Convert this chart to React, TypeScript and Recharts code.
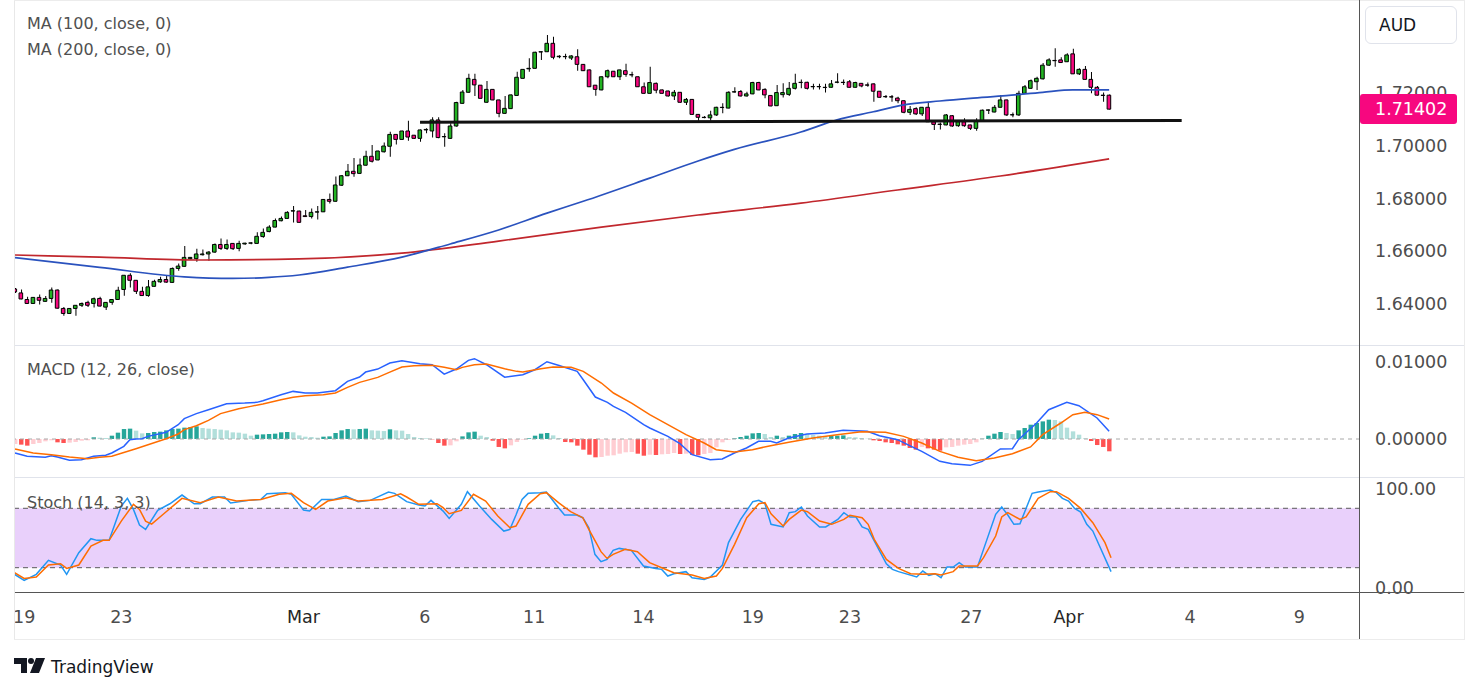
import React from 'react';
import { ComposedChart, Bar, Line, XAxis, YAxis, Cell, ReferenceLine, ReferenceArea } from 'recharts';

// ---------- price candles (4H, index = bar slot) ----------
const OPEN = [
  1.6457, 1.6442, 1.6417, 1.6402, 1.6425, 1.6410, 1.6421, 1.6453, 1.6383, 1.6364,
  1.6383, 1.6395, 1.6406, 1.6402, 1.6421, 1.6388, 1.6406, 1.6417, 1.6455, 1.6509,
  1.6490, 1.6448, 1.6432, 1.6467, 1.6484, 1.6493, 1.6482, 1.6535, 1.6543, 1.6572,
  1.6572, 1.6587, 1.6590, 1.6597, 1.6626, 1.6611, 1.6630, 1.6611, 1.6628, 1.6631,
  1.6630, 1.6656, 1.6675, 1.6692, 1.6716, 1.6725, 1.6753, 1.6753, 1.6735, 1.6732,
  1.6749, 1.6750, 1.6797, 1.6790, 1.6851, 1.6887, 1.6904, 1.6896, 1.6927, 1.6961,
  1.6947, 1.6978, 1.6999, 1.7044, 1.7025, 1.7057, 1.7041, 1.7029, 1.7061, 1.7057,
  1.7099, 1.7035, 1.7029, 1.7076, 1.7162, 1.7204, 1.7253, 1.7231, 1.7166, 1.7215,
  1.7175, 1.7124, 1.7142, 1.7192, 1.7257, 1.7293, 1.7295, 1.7357, 1.7358, 1.7390,
  1.7339, 1.7339, 1.7334, 1.7339, 1.7310, 1.7289, 1.7231, 1.7213, 1.7263, 1.7284,
  1.7263, 1.7286, 1.7271, 1.7263, 1.7225, 1.7200, 1.7238, 1.7213, 1.7209, 1.7190,
  1.7204, 1.7166, 1.7177, 1.7120, 1.7109, 1.7107, 1.7118, 1.7146, 1.7144, 1.7205,
  1.7207, 1.7190, 1.7198, 1.7241, 1.7215, 1.7192, 1.7153, 1.7195, 1.7196, 1.7219,
  1.7242, 1.7242, 1.7225, 1.7226, 1.7223, 1.7223, 1.7242, 1.7242, 1.7244, 1.7223,
  1.7238, 1.7232, 1.7236, 1.7208, 1.7187, 1.7187, 1.7182, 1.7172, 1.7128, 1.7142,
  1.7122, 1.7147, 1.7092, 1.7082, 1.7080, 1.7115, 1.7077, 1.7092, 1.7080, 1.7067,
  1.7096, 1.7136, 1.7129, 1.7147, 1.7175, 1.7118, 1.7118, 1.7200, 1.7219, 1.7244,
  1.7255, 1.7307, 1.7324, 1.7327, 1.7320, 1.7350, 1.7274, 1.7291, 1.7253, 1.7223,
  1.7193, 1.7193,
];
const HIGH = [
  1.6461, 1.6455, 1.6427, 1.6426, 1.6436, 1.6430, 1.6463, 1.6455, 1.6389, 1.6384,
  1.6396, 1.6406, 1.6412, 1.6425, 1.6427, 1.6407, 1.6418, 1.6465, 1.6510, 1.6517,
  1.6491, 1.6465, 1.6491, 1.6492, 1.6503, 1.6506, 1.6539, 1.6554, 1.6620, 1.6578,
  1.6610, 1.6607, 1.6601, 1.6630, 1.6649, 1.6645, 1.6631, 1.6640, 1.6633, 1.6634,
  1.6672, 1.6687, 1.6699, 1.6725, 1.6732, 1.6752, 1.6772, 1.6754, 1.6757, 1.6763,
  1.6772, 1.6798, 1.6820, 1.6884, 1.6890, 1.6932, 1.6954, 1.6953, 1.6982, 1.7004,
  1.6982, 1.7013, 1.7054, 1.7045, 1.7058, 1.7096, 1.7042, 1.7063, 1.7067, 1.7109,
  1.7109, 1.7048, 1.7086, 1.7168, 1.7213, 1.7274, 1.7274, 1.7232, 1.7247, 1.7216,
  1.7176, 1.7190, 1.7196, 1.7282, 1.7292, 1.7333, 1.7358, 1.7359, 1.7422, 1.7415,
  1.7345, 1.7350, 1.7345, 1.7367, 1.7311, 1.7291, 1.7232, 1.7264, 1.7291, 1.7285,
  1.7290, 1.7312, 1.7282, 1.7264, 1.7241, 1.7301, 1.7241, 1.7215, 1.7210, 1.7213,
  1.7205, 1.7182, 1.7178, 1.7121, 1.7114, 1.7134, 1.7149, 1.7162, 1.7208, 1.7223,
  1.7213, 1.7206, 1.7244, 1.7244, 1.7219, 1.7193, 1.7232, 1.7238, 1.7243, 1.7274,
  1.7253, 1.7244, 1.7236, 1.7236, 1.7236, 1.7251, 1.7276, 1.7253, 1.7251, 1.7244,
  1.7239, 1.7241, 1.7237, 1.7209, 1.7194, 1.7194, 1.7187, 1.7173, 1.7152, 1.7147,
  1.7148, 1.7168, 1.7093, 1.7089, 1.7122, 1.7118, 1.7099, 1.7105, 1.7081, 1.7105,
  1.7139, 1.7139, 1.7156, 1.7194, 1.7176, 1.7127, 1.7210, 1.7232, 1.7253, 1.7263,
  1.7315, 1.7333, 1.7371, 1.7337, 1.7352, 1.7369, 1.7295, 1.7304, 1.7281, 1.7228,
  1.7203, 1.7196,
];
const LOW = [
  1.6442, 1.6418, 1.6401, 1.6401, 1.6398, 1.6409, 1.6405, 1.6383, 1.6355, 1.6363,
  1.6355, 1.6389, 1.6389, 1.6387, 1.6391, 1.6377, 1.6397, 1.6416, 1.6431, 1.6463,
  1.6438, 1.6431, 1.6427, 1.6466, 1.6481, 1.6481, 1.6481, 1.6526, 1.6542, 1.6569,
  1.6560, 1.6584, 1.6564, 1.6595, 1.6605, 1.6605, 1.6605, 1.6600, 1.6625, 1.6627,
  1.6629, 1.6652, 1.6672, 1.6691, 1.6714, 1.6724, 1.6709, 1.6709, 1.6730, 1.6725,
  1.6721, 1.6749, 1.6782, 1.6789, 1.6848, 1.6886, 1.6883, 1.6895, 1.6926, 1.6937,
  1.6946, 1.6975, 1.6959, 1.7006, 1.7024, 1.7020, 1.7028, 1.7016, 1.7048, 1.7032,
  1.7029, 1.6997, 1.7028, 1.7073, 1.7161, 1.7203, 1.7190, 1.7180, 1.7165, 1.7174,
  1.7109, 1.7123, 1.7141, 1.7191, 1.7256, 1.7282, 1.7294, 1.7327, 1.7357, 1.7329,
  1.7333, 1.7329, 1.7327, 1.7286, 1.7285, 1.7224, 1.7191, 1.7212, 1.7257, 1.7262,
  1.7251, 1.7263, 1.7261, 1.7224, 1.7199, 1.7199, 1.7200, 1.7199, 1.7188, 1.7175,
  1.7165, 1.7156, 1.7119, 1.7096, 1.7105, 1.7096, 1.7114, 1.7124, 1.7143, 1.7203,
  1.7188, 1.7188, 1.7197, 1.7212, 1.7181, 1.7151, 1.7152, 1.7184, 1.7190, 1.7215,
  1.7219, 1.7215, 1.7215, 1.7215, 1.7203, 1.7222, 1.7238, 1.7232, 1.7222, 1.7222,
  1.7223, 1.7225, 1.7168, 1.7184, 1.7182, 1.7168, 1.7162, 1.7124, 1.7118, 1.7118,
  1.7114, 1.7091, 1.7061, 1.7063, 1.7079, 1.7073, 1.7073, 1.7073, 1.7061, 1.7058,
  1.7095, 1.7122, 1.7128, 1.7146, 1.7114, 1.7109, 1.7114, 1.7198, 1.7218, 1.7213,
  1.7253, 1.7304, 1.7301, 1.7315, 1.7319, 1.7273, 1.7270, 1.7252, 1.7200, 1.7192,
  1.7168, 1.7139,
];
const CLOSE = [
  1.6446, 1.6419, 1.6402, 1.6425, 1.6414, 1.6421, 1.6453, 1.6384, 1.6364, 1.6383,
  1.6395, 1.6402, 1.6395, 1.6420, 1.6392, 1.6406, 1.6417, 1.6452, 1.6509, 1.6490,
  1.6448, 1.6432, 1.6465, 1.6486, 1.6493, 1.6483, 1.6535, 1.6544, 1.6577, 1.6577,
  1.6590, 1.6590, 1.6597, 1.6626, 1.6611, 1.6626, 1.6610, 1.6630, 1.6631, 1.6632,
  1.6657, 1.6672, 1.6692, 1.6717, 1.6725, 1.6748, 1.6754, 1.6710, 1.6732, 1.6748,
  1.6750, 1.6797, 1.6790, 1.6852, 1.6887, 1.6904, 1.6895, 1.6928, 1.6961, 1.6942,
  1.6981, 1.7000, 1.7044, 1.7025, 1.7057, 1.7034, 1.7029, 1.7061, 1.7063, 1.7099,
  1.7032, 1.7036, 1.7076, 1.7165, 1.7205, 1.7257, 1.7232, 1.7181, 1.7215, 1.7175,
  1.7124, 1.7143, 1.7194, 1.7261, 1.7291, 1.7295, 1.7356, 1.7358, 1.7390, 1.7337,
  1.7341, 1.7340, 1.7342, 1.7310, 1.7286, 1.7225, 1.7215, 1.7263, 1.7286, 1.7263,
  1.7289, 1.7272, 1.7270, 1.7225, 1.7200, 1.7241, 1.7212, 1.7200, 1.7190, 1.7204,
  1.7166, 1.7177, 1.7120, 1.7109, 1.7108, 1.7118, 1.7147, 1.7147, 1.7204, 1.7206,
  1.7190, 1.7198, 1.7241, 1.7213, 1.7194, 1.7152, 1.7203, 1.7203, 1.7219, 1.7238,
  1.7241, 1.7219, 1.7226, 1.7225, 1.7222, 1.7236, 1.7243, 1.7241, 1.7223, 1.7241,
  1.7228, 1.7231, 1.7208, 1.7185, 1.7188, 1.7186, 1.7172, 1.7128, 1.7139, 1.7122,
  1.7147, 1.7092, 1.7082, 1.7083, 1.7118, 1.7076, 1.7092, 1.7077, 1.7067, 1.7096,
  1.7136, 1.7137, 1.7147, 1.7175, 1.7118, 1.7119, 1.7200, 1.7225, 1.7248, 1.7257,
  1.7307, 1.7327, 1.7325, 1.7317, 1.7346, 1.7274, 1.7291, 1.7253, 1.7223, 1.7193,
  1.7192, 1.7140,
];

// ---------- moving averages [barIndex, value] ----------
const MA100 = [
  [0, 1.6576], [14, 1.6539], [28, 1.6503], [36, 1.6497], [42, 1.6501], [47, 1.6510],
  [55, 1.6540], [64, 1.6578], [72, 1.6628], [80, 1.6681], [88, 1.6745], [94, 1.6790],
  [105, 1.6878], [113, 1.6943], [119, 1.6987], [130, 1.7053], [136, 1.7099], [142, 1.7130],
  [147, 1.7156], [153, 1.7171], [158, 1.7181], [164, 1.7191], [170, 1.7204], [175, 1.7213],
  [181, 1.7213],
];
const MA200 = [
  [0, 1.6586], [14, 1.6578], [31, 1.6567], [47, 1.6571], [64, 1.6593], [80, 1.6639],
  [97, 1.6692], [113, 1.6738], [130, 1.6783], [146, 1.6833], [163, 1.6886], [181, 1.6951],
];
const SUPPORT_IDX = [67, 193];
const SUPPORT_PRICE = [1.7090, 1.7097];
const LAST_PRICE = 1.71402;

// ---------- MACD ----------
const HIST = [
  -0.00065, -0.00073, -0.00086, -0.00065, -0.00052, -0.00030, -0.00017, -0.00043, -0.00052, -0.00047,
  -0.00039, -0.00022, -0.00017, 0.00022, 0.00017, 0.00013, 0.00043, 0.00082, 0.00129, 0.00134,
  0.00108, 0.00073, 0.00078, 0.00091, 0.00095, 0.00112, 0.00129, 0.00134, 0.00147, 0.00155,
  0.00164, 0.00142, 0.00134, 0.00129, 0.00121, 0.00112, 0.00086, 0.00082, 0.00069, 0.00043,
  0.00056, 0.00060, 0.00065, 0.00069, 0.00086, 0.00091, 0.00086, 0.00047, 0.00030, 0.00026,
  0.00017, 0.00030, 0.00034, 0.00078, 0.00112, 0.00129, 0.00125, 0.00129, 0.00134, 0.00112,
  0.00108, 0.00103, 0.00125, 0.00112, 0.00108, 0.00065, 0.00026, 0.00013, 0.00009, -0.00004,
  -0.00052, -0.00086, -0.00082, -0.00030, 0.00034, 0.00086, 0.00095, 0.00043, 0.00026, -0.00022,
  -0.00103, -0.00121, -0.00082, -0.00039, -0.00009, 0.00009, 0.00043, 0.00069, 0.00078, 0.00047,
  0.00013, -0.00039, -0.00043, -0.00086, -0.00138, -0.00203, -0.00237, -0.00233, -0.00216, -0.00211,
  -0.00190, -0.00172, -0.00168, -0.00190, -0.00216, -0.00203, -0.00207, -0.00198, -0.00194, -0.00181,
  -0.00194, -0.00190, -0.00207, -0.00211, -0.00194, -0.00181, -0.00108, -0.00043, -0.00013, 0.00009,
  0.00026, 0.00043, 0.00073, 0.00078, 0.00065, 0.00026, 0.00043, 0.00026, 0.00043, 0.00065,
  0.00078, 0.00065, 0.00052, 0.00043, 0.00034, 0.00039, 0.00043, 0.00047, 0.00026, 0.00022,
  0.00013, 0.00004, -0.00017, -0.00026, -0.00043, -0.00052, -0.00069, -0.00086, -0.00116, -0.00138,
  -0.00103, -0.00121, -0.00138, -0.00151, -0.00108, -0.00103, -0.00086, -0.00073, -0.00065, -0.00043,
  0.00004, 0.00043, 0.00069, 0.00091, 0.00078, 0.00065, 0.00112, 0.00142, 0.00185, 0.00207,
  0.00228, 0.00250, 0.00246, 0.00228, 0.00147, 0.00099, 0.00056, 0.00009, -0.00026, -0.00078,
  -0.00103, -0.00159,
];
const MACD_LINE = [
  [0, -0.00181], [2, -0.00224], [5, -0.00237], [6, -0.00216], [7, -0.00233], [9, -0.00276],
  [11, -0.00267], [13, -0.00224], [15, -0.00211], [16, -0.00181], [18, -0.00095], [19, -0.00009],
  [20, 0.0], [21, 0.00004], [22, 0.00034], [25, 0.00086], [27, 0.00185], [28, 0.00263],
  [30, 0.00328], [32, 0.00379], [35, 0.00457], [38, 0.00465], [40, 0.00474], [41, 0.00496],
  [44, 0.00573], [46, 0.00616], [48, 0.00595], [50, 0.00595], [53, 0.00625], [55, 0.00746],
  [57, 0.00802], [58, 0.00866], [60, 0.00905], [62, 0.00983], [64, 0.01013], [67, 0.00974],
  [69, 0.00961], [71, 0.0084], [73, 0.00905], [75, 0.01017], [76, 0.01039], [78, 0.00961],
  [81, 0.0080], [84, 0.00832], [86, 0.00896], [88, 0.01000], [90, 0.0095], [93, 0.00875],
  [94, 0.00767], [96, 0.00543], [98, 0.00474], [99, 0.00422], [101, 0.00345], [104, 0.00185],
  [105, 0.00142], [108, 0.00034], [110, -0.0006], [112, -0.00203], [115, -0.00267], [117, -0.00259],
  [119, -0.00181], [121, -0.00116], [123, -0.0003], [125, -0.0003], [126, -0.00052], [128, 0.00013],
  [131, 0.00065], [134, 0.00078], [137, 0.00112], [139, 0.00108], [141, 0.00099], [143, 0.00043],
  [146, -0.00009], [148, -0.00086], [150, -0.0016], [153, -0.00289], [155, -0.00319], [158, -0.00341],
  [160, -0.00289], [163, -0.00129], [165, -0.00125], [166, -0.00009], [169, 0.00207], [171, 0.00379],
  [174, 0.00474], [176, 0.00431], [179, 0.00272], [181, 0.00099],
];
const SIGNAL_LINE = [
  [0, -0.00129], [3, -0.00181], [6, -0.00203], [9, -0.00233], [12, -0.00254], [14, -0.00237],
  [16, -0.00224], [20, -0.00125], [25, 0.00004], [27, 0.00065], [28, 0.00121], [30, 0.00172],
  [32, 0.00241], [34, 0.00328], [37, 0.00392], [39, 0.00422], [41, 0.00453], [44, 0.00509],
  [46, 0.00539], [48, 0.0056], [51, 0.00573], [53, 0.00595], [55, 0.00668], [57, 0.00733],
  [60, 0.00797], [62, 0.00866], [64, 0.00931], [66, 0.00948], [69, 0.00953], [71, 0.00927],
  [73, 0.00896], [74, 0.00927], [76, 0.00961], [78, 0.0097], [81, 0.00909], [83, 0.00875],
  [84, 0.00866], [87, 0.0091], [89, 0.00931], [92, 0.00927], [94, 0.00875], [97, 0.00724],
  [99, 0.00595], [102, 0.00465], [105, 0.00315], [108, 0.00185], [111, 0.00056], [114, -0.00052],
  [116, -0.00138], [119, -0.00168], [122, -0.00138], [125, -0.00086], [128, -0.00043], [132, 0.00013],
  [136, 0.00056], [140, 0.00095], [144, 0.00086], [147, 0.00034], [150, -0.00052], [153, -0.0016],
  [156, -0.00237], [159, -0.0028], [162, -0.00246], [165, -0.0019], [168, -0.00103], [170, 0.00056],
  [173, 0.00207], [175, 0.00315], [177, 0.00345], [179, 0.00315], [181, 0.00259],
];

// ---------- Stochastic ----------
const STOCH_K = [
  [0, 14.9], [2, 7.2], [4, 13.3], [6, 27.4], [8, 22.7], [9, 13.3], [11, 35.2], [13, 49.3],
  [14, 47.6], [16, 47.6], [18, 82.3], [19, 90], [20, 78.9], [21, 63.1], [22, 58.7], [24, 77.9],
  [26, 84.6], [28, 93.4], [30, 84.6], [31, 84.6], [33, 91.4], [35, 91.4], [36, 85.3], [39, 88],
  [41, 89], [42, 94.7], [45, 95.8], [46, 94.1], [48, 78.3], [49, 77.2], [51, 89], [53, 89],
  [55, 92.4], [57, 86.7], [59, 88], [62, 96.4], [63, 95.1], [65, 86.7], [67, 83.3], [68, 82.3],
  [69, 88], [71, 77.2], [72, 69.8], [74, 84], [75, 96.8], [77, 82.3], [79, 68.8], [81, 57],
  [82, 58.7], [83, 73.2], [84, 89], [85, 95.1], [87, 95.8], [88, 96.4], [90, 80.6], [91, 73.2],
  [93, 73.2], [94, 70.5], [95, 60.4], [96, 33.5], [97, 26.1], [98, 28.4], [99, 37.5], [100, 39.5],
  [102, 37.5], [104, 21.7], [106, 19.3], [107, 18.3], [108, 11.6], [109, 13.9], [111, 16], [112, 9.9],
  [114, 8.2], [115, 10.6], [117, 22.7], [118, 45.3], [120, 68.8], [122, 86.7], [123, 88], [124, 84.6],
  [125, 63.8], [127, 61.1], [128, 75.6], [129, 76.6], [130, 81.3], [131, 72.2], [133, 61.1], [134, 61.1],
  [136, 68.8], [137, 75.6], [138, 71.2], [139, 71.2], [140, 61.1], [141, 58.7], [144, 24], [145, 18.3],
  [146, 16], [149, 10.6], [150, 16.6], [151, 12.3], [152, 13.9], [153, 9.9], [154, 20.7], [155, 20.7],
  [156, 25.1], [157, 20.7], [159, 20.7], [160, 38.5], [162, 73.9], [163, 81.3], [164, 73.2], [165, 63.8],
  [166, 64.4], [168, 95.1], [169, 96.4], [171, 98.5], [172, 95.8], [173, 90], [174, 87.3], [175, 79.9],
  [176, 76.2], [177, 63.8], [178, 57], [181, 16],
];
const STOCH_D = [
  [0, 16.6], [2, 9.2], [4, 10.6], [6, 22.7], [8, 24], [9, 19.3], [11, 22.7], [13, 41.9],
  [15, 47.6], [16, 47.6], [18, 67.1], [20, 84], [21, 78.9], [22, 67.1], [23, 64], [25, 74.5],
  [28, 90], [31, 85.7], [34, 91.4], [37, 87.3], [41, 89], [44, 94.1], [46, 95.1], [48, 85.7],
  [50, 78.9], [52, 87.3], [55, 90.7], [57, 87.3], [61, 89], [64, 94.7], [65, 91.4], [67, 84],
  [70, 84.6], [71, 80.6], [72, 74.5], [74, 77.9], [76, 94.1], [78, 87.3], [80, 72.2], [82, 60.4],
  [83, 62.1], [85, 84], [87, 94.7], [88, 95.8], [90, 85.7], [92, 76.6], [94, 70.5], [95, 58.7],
  [97, 36.2], [98, 29.4], [99, 33.5], [101, 38.5], [103, 36.2], [105, 25.1], [107, 20], [109, 14.9],
  [112, 12.6], [114, 9.2], [116, 11.6], [117, 19.3], [119, 43.6], [121, 70.5], [123, 84.6], [124, 85.7],
  [125, 74.5], [127, 62.1], [128, 68.8], [130, 78.2], [131, 76.6], [133, 67.1], [135, 63.8], [137, 68.8],
  [138, 72.9], [140, 70.5], [141, 63.8], [142, 48.6], [144, 28.4], [146, 19.3], [148, 13.9], [150, 13.3],
  [152, 13.9], [153, 12.6], [155, 16], [156, 21.7], [159, 21.7], [160, 30.1], [162, 52], [163, 71.2],
  [164, 75.6], [166, 68.8], [167, 71.2], [169, 90], [171, 96.8], [172, 96.8], [174, 90], [176, 79.9],
  [178, 65.5], [180, 45.3], [181, 30.1],
];

// ---------- axes ----------
const TICK_IDX = [2, 18, 48, 68, 86, 104, 122, 138, 158, 174, 194, 212];
const TICK_LBL = ['19', '23', 'Mar', '6', '11', '14', '19', '23', '27', 'Apr', '4', '9'];
const PRICE_TICKS = [1.64, 1.66, 1.68, 1.7, 1.72];
const MACD_TICKS = [0, 0.01];
const STOCH_TICKS = [0, 100];
const SLOTS = 223;

// ---------- styles ----------
const FONT = '"DejaVu Sans", sans-serif';
const UP = '#22b322';
const DOWN = '#f7077f';
const AXIS_TXT = '#4d4d4d';
const W = 1479;
const AXIS_W = 119;
const MARGIN = { top: 0, right: 0, bottom: 0, left: 12 };
const PRICE_DOMAIN = [1.624421, 1.75545];

const rows: any[] = Array.from({ length: SLOTS }, (_, i) => {
  const has = i < CLOSE.length;
  return {
    i,
    wick: has ? [LOW[i], HIGH[i]] : null,
    body: has ? [Math.min(OPEN[i], CLOSE[i]), Math.max(OPEN[i], CLOSE[i])] : null,
    up: has ? CLOSE[i] >= OPEN[i] : null,
    hist: has ? HIST[i] : null,
  };
});
const put = (key: string, pts: number[][]) => pts.forEach(([i, v]) => { rows[i][key] = v; });
put('ma100', MA100);
put('ma200', MA200);
put('macd', MACD_LINE);
put('signal', SIGNAL_LINE);
put('k', STOCH_K);
put('d', STOCH_D);

const histColor = (i: number) => {
  const v = HIST[i];
  const p = i > 0 ? HIST[i - 1] : v;
  if (v >= 0) return v > p ? '#26a69a' : '#b2dfdb';
  return v < p ? '#ff5252' : '#ffcdd2';
};

const yTick = (digits: number) => (props: any) => (
  <text x={props.x} y={props.y} dy="0.35em" textAnchor="start" fontSize={17.5} fill={AXIS_TXT} fontFamily={FONT}>
    {Number(props.payload.value).toFixed(digits)}
  </text>
);

const XTick = (props: any) => {
  const lbl = TICK_LBL[TICK_IDX.indexOf(Number(props.payload.value))];
  const month = isNaN(Number(lbl));
  return (
    <text x={props.x} y={props.y + 25} dy="0.35em" textAnchor="middle" fontSize={17.5}
      fill={month ? '#262626' : AXIS_TXT} fontFamily={FONT}>{lbl}</text>
  );
};

const PriceTag = (props: any) => {
  const vb = props.viewBox || {};
  const x = vb.x + vb.width;
  const y = vb.y;
  return (
    <g>
      <rect x={x} y={y - 15} width={97} height={30} rx={3} fill={DOWN} />
      <text x={x + 15} y={y} dy="0.35em" fill="#fff" fontSize={17.5} fontFamily={FONT}>{LAST_PRICE.toFixed(5)}</text>
    </g>
  );
};

const abs = (s: any): React.CSSProperties => ({ position: 'absolute', ...s });

export default function App() {
  return (
    <div style={abs({ left: 0, top: 0, width: W, height: 693, background: '#fff', fontFamily: FONT, overflow: 'hidden' })}>
      {/* price pane */}
      <div style={abs({ left: 0, top: 0 })}>
        <ComposedChart width={W} height={345} data={rows} margin={MARGIN}>
          <XAxis xAxisId="w" dataKey="i" type="category" hide />
          <XAxis xAxisId="b" dataKey="i" type="category" hide />
          <YAxis orientation="right" width={AXIS_W} type="number" domain={PRICE_DOMAIN} allowDataOverflow
            ticks={PRICE_TICKS} interval={0} axisLine={false} tickLine={false} tickSize={0} tickMargin={15} tick={yTick(5)} />
          <Line xAxisId="w" dataKey="ma200" type="monotone" connectNulls dot={false} stroke="#c1272d" strokeWidth={1.7} isAnimationActive={false} />
          <Line xAxisId="w" dataKey="ma100" type="monotone" connectNulls dot={false} stroke="#2a52be" strokeWidth={1.7} isAnimationActive={false} />
          <Bar xAxisId="w" dataKey="wick" barSize={1} fill="#000" isAnimationActive={false} />
          <Bar xAxisId="b" dataKey="body" barSize={3.6} stroke="#000" strokeWidth={1} isAnimationActive={false}>
            {rows.map((r) => <Cell key={r.i} fill={r.up ? UP : DOWN} />)}
          </Bar>
          <ReferenceLine xAxisId="w" ifOverflow="visible" stroke="#111" strokeWidth={3}
            segment={[{ x: SUPPORT_IDX[0], y: SUPPORT_PRICE[0] }, { x: SUPPORT_IDX[1], y: SUPPORT_PRICE[1] }]} />
        </ComposedChart>
      </div>

      {/* last-price tag, drawn above the price axis labels with the same scale */}
      <div style={abs({ left: 0, top: 0, pointerEvents: 'none' })}>
        <ComposedChart width={W} height={345} data={rows} margin={MARGIN}>
          <XAxis dataKey="i" type="category" hide />
          <YAxis orientation="right" width={AXIS_W} type="number" domain={PRICE_DOMAIN} allowDataOverflow
            ticks={[]} axisLine={false} tickLine={false} tick={false} />
          <ReferenceLine y={LAST_PRICE} stroke="none" ifOverflow="visible" label={<PriceTag />} />
        </ComposedChart>
      </div>

      {/* MACD pane */}
      <div style={abs({ left: 0, top: 345 })}>
        <ComposedChart width={W} height={133} data={rows} margin={MARGIN}>
          <XAxis dataKey="i" type="category" hide />
          <YAxis orientation="right" width={AXIS_W} type="number" domain={[-0.005045, 0.012161]} allowDataOverflow
            ticks={MACD_TICKS} interval={0} axisLine={false} tickLine={false} tickSize={0} tickMargin={15} tick={yTick(5)} />
          <ReferenceLine y={0} stroke="#a8a8a8" strokeDasharray="4 4" />
          <Bar dataKey="hist" barSize={4.4} isAnimationActive={false}>
            {rows.map((r) => <Cell key={r.i} fill={r.hist == null ? 'none' : histColor(r.i)} />)}
          </Bar>
          <Line dataKey="macd" type="linear" connectNulls dot={false} stroke="#2962ff" strokeWidth={1.5} isAnimationActive={false} />
          <Line dataKey="signal" type="linear" connectNulls dot={false} stroke="#ff6d00" strokeWidth={1.5} isAnimationActive={false} />
        </ComposedChart>
      </div>

      {/* Stochastic pane + time axis */}
      <div style={abs({ left: 0, top: 478 })}>
        <ComposedChart width={W} height={162} data={rows} margin={MARGIN}>
          <XAxis dataKey="i" type="category" height={48} ticks={TICK_IDX} interval={0} axisLine={false}
            tickLine={false} tickSize={0} tickMargin={0} tick={<XTick />} />
          <YAxis orientation="right" width={AXIS_W} type="number" domain={[-4.55, 110.6]} allowDataOverflow
            ticks={STOCH_TICKS} interval={0} axisLine={false} tickLine={false} tickSize={0} tickMargin={15} tick={yTick(2)} />
          <ReferenceArea y1={20} y2={80} fill="#e9d0fb" fillOpacity={1} stroke="none" />
          <ReferenceLine y={80} stroke="#5a5a5a" strokeDasharray="5 4" />
          <ReferenceLine y={20} stroke="#5a5a5a" strokeDasharray="5 4" />
          <Line dataKey="k" type="linear" connectNulls dot={false} stroke="#2196f3" strokeWidth={1.5} isAnimationActive={false} />
          <Line dataKey="d" type="linear" connectNulls dot={false} stroke="#ff6d00" strokeWidth={1.5} isAnimationActive={false} />
        </ComposedChart>
      </div>

      {/* frame & separators */}
      <div style={abs({ left: 0, top: 0, width: 14, height: 640, background: '#fff' })} />
      <div style={abs({ left: 14, top: 0, width: 1, height: 640, background: '#e8e8e8' })} />
      <div style={abs({ left: 1464, top: 0, width: 1, height: 640, background: '#ececec' })} />
      <div style={abs({ left: 14, top: 0, width: 1451, height: 1, background: '#ececec' })} />
      <div style={abs({ left: 14, top: 639, width: 1451, height: 1, background: '#ececec' })} />
      <div style={abs({ left: 15, top: 345, width: 1449, height: 1, background: '#e0e3eb' })} />
      <div style={abs({ left: 15, top: 477, width: 1449, height: 1, background: '#e0e3eb' })} />
      <div style={abs({ left: 15, top: 592, width: 1449, height: 1, background: '#555' })} />
      <div style={abs({ left: 1359, top: 0, width: 1, height: 639, background: '#555' })} />

      {/* legends */}
      <div style={abs({ left: 27, top: 14, fontSize: 16, lineHeight: '19px', color: '#505050', whiteSpace: 'nowrap' })}>MA (100, close, 0)</div>
      <div style={abs({ left: 27, top: 40, fontSize: 16, lineHeight: '19px', color: '#505050', whiteSpace: 'nowrap' })}>MA (200, close, 0)</div>
      <div style={abs({ left: 27, top: 360, fontSize: 16, lineHeight: '19px', color: '#505050', whiteSpace: 'nowrap' })}>MACD (12, 26, close)</div>
      <div style={abs({ left: 27, top: 493, fontSize: 16, lineHeight: '19px', color: '#505050', whiteSpace: 'nowrap' })}>Stoch (14, 3, 3)</div>

      {/* currency box */}
      <div style={abs({ left: 1365, top: 6, width: 90, height: 36, border: '1px solid #e0e3eb', borderRadius: 6, background: '#fff' })}>
        <div style={abs({ left: 13, top: 8, fontSize: 17, lineHeight: '20px', color: '#131722' })}>AUD</div>
      </div>

      {/* TradingView logo */}
      <svg style={abs({ left: 0, top: 650 })} width={200} height={40}>
        <path d="M14 8 H27 V23 H21 V14 H14 Z" fill="#131722" />
        <circle cx={31} cy={11} r={3} fill="#131722" />
        <path d="M36 8 H45 L39 23 H30 Z" fill="#131722" />
        <text x={51} y={23} fontSize={17} fill="#131722" fontFamily={FONT}>TradingView</text>
      </svg>
    </div>
  );
}
